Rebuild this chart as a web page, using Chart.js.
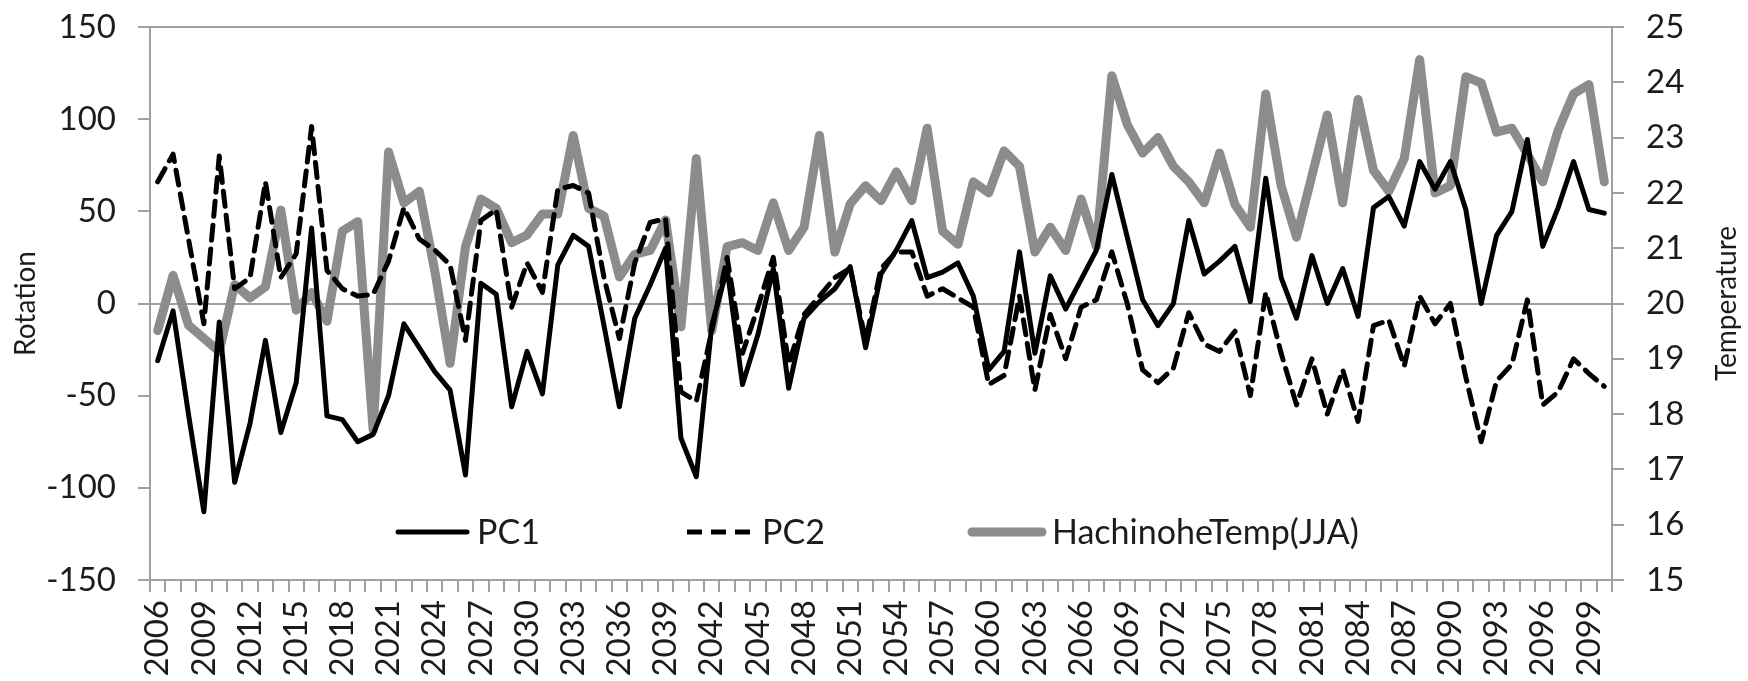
<!DOCTYPE html>
<html>
<head>
<meta charset="utf-8">
<title>PC1 / PC2 / HachinoheTemp(JJA)</title>
<script src="https://cdn.jsdelivr.net/npm/chart.js@4.4.1/dist/chart.umd.min.js"></script>
<style>
  html, body { margin: 0; padding: 0; background: #fff; }
  #wrap { position: relative; width: 1748px; height: 681px; }
</style>
</head>
<body>
<div id="wrap"><canvas id="chart"></canvas></div>
<script>
// categories: 2006 .. 2100
const years = [
  2006, 2007, 2008, 2009, 2010, 2011, 2012, 2013, 2014, 2015,
  2016, 2017, 2018, 2019, 2020, 2021, 2022, 2023, 2024, 2025,
  2026, 2027, 2028, 2029, 2030, 2031, 2032, 2033, 2034, 2035,
  2036, 2037, 2038, 2039, 2040, 2041, 2042, 2043, 2044, 2045,
  2046, 2047, 2048, 2049, 2050, 2051, 2052, 2053, 2054, 2055,
  2056, 2057, 2058, 2059, 2060, 2061, 2062, 2063, 2064, 2065,
  2066, 2067, 2068, 2069, 2070, 2071, 2072, 2073, 2074, 2075,
  2076, 2077, 2078, 2079, 2080, 2081, 2082, 2083, 2084, 2085,
  2086, 2087, 2088, 2089, 2090, 2091, 2092, 2093, 2094, 2095,
  2096, 2097, 2098, 2099, 2100
];

// rotation (left axis)
const pc1 = [
  -31, -4, -60, -113, -10, -97, -65, -20, -70, -43,
  41, -61, -63, -75, -71, -50, -11, -24, -37, -47,
  -93, 11, 5, -56, -26, -49, 21, 37, 31, -12,
  -56, -8, 10, 30, -73, -94, -12, 19, -44, -17,
  19, -46, -8, 1, 8, 20, -24, 16, 29, 45,
  14, 17, 22, 4, -36, -26, 28, -27, 15, -3,
  13, 29, 70, 36, 2, -12, 0, 45, 16, 23,
  31, 1, 68, 14, -8, 26, 0, 19, -7, 52,
  58, 42, 77, 62, 77, 51, 0, 37, 50, 89,
  31, 52, 77, 51, 49
];

const pc2 = [
  66, 81, 35, -11, 80, 8, 14, 66, 14, 27,
  96, 18, 8, 4, 5, 23, 52, 35, 29, 21,
  -20, 45, 51, -2, 22, 6, 62, 64, 60, 14,
  -19, 22, 44, 46, -48, -53, -15, 25, -27, -2,
  25, -33, -6, 4, 14, 19, -20, 19, 28, 28,
  4, 8, 3, -2, -44, -39, 4, -47, -6, -30,
  -2, 2, 28, 0, -36, -43, -35, -5, -22, -26,
  -15, -50, 6, -27, -55, -30, -60, -36, -64, -12,
  -9, -34, 4, -11, 0, -40, -75, -42, -33, 2,
  -55, -48, -30, -38, -45
];

// temperature (right axis)
const hachinoheTemp = [
  19.51, 20.51, 19.61, 19.37, 19.13, 20.34, 20.10, 20.30, 21.69, 19.88,
  20.20, 19.68, 21.31, 21.48, 17.71, 22.74, 21.82, 22.03, 20.60, 18.92,
  21.03, 21.89, 21.72, 21.10, 21.24, 21.62, 21.62, 23.04, 21.72, 21.58,
  20.48, 20.89, 20.96, 21.51, 19.58, 22.62, 19.51, 21.03, 21.10, 20.96,
  21.82, 20.96, 21.38, 23.04, 20.93, 21.80, 22.13, 21.86, 22.38, 21.86,
  23.17, 21.31, 21.07, 22.20, 22.00, 22.76, 22.48, 20.93, 21.38, 20.96,
  21.89, 21.03, 24.12, 23.24, 22.72, 23.00, 22.48, 22.20, 21.82, 22.72,
  21.79, 21.38, 23.79, 22.13, 21.20, 22.31, 23.41, 21.82, 23.69, 22.41,
  22.03, 22.62, 24.41, 22.00, 22.13, 24.10, 23.99, 23.10, 23.17, 22.70,
  22.20, 23.13, 23.79, 23.96, 22.20
];

// tick labels
const shownYears = [
  2006, 2009, 2012, 2015, 2018, 2021, 2024, 2027, 2030, 2033, 2036,
  2039, 2042, 2045, 2048, 2051, 2054, 2057, 2060, 2063, 2066, 2069,
  2072, 2075, 2078, 2081, 2084, 2087, 2090, 2093, 2096, 2099
];
const rotationTicks = [-150, -100, -50, 0, 50, 100, 150];
const temperatureTicks = [15, 16, 17, 18, 19, 20, 21, 22, 23, 24, 25];

const FONT = 'Lato, "Open Sans", sans-serif';
const TEXT = '#1c1c1c';
const AXIS = '#a0a0a0';

// axis titles + in-plot legend
const overlay = {
    id: 'overlay',
    afterDraw(chart) {
        const ctx = chart.ctx;
        const area = chart.chartArea;
        const midY = (area.top + area.bottom) / 2;
        ctx.save();
        ctx.fillStyle = TEXT;
        ctx.font = '28px ' + FONT;
        ctx.textAlign = 'center';
        ctx.textBaseline = 'middle';
        [['Rotation', 26], ['Temperature', 1727]].forEach(([t, x]) => {
            ctx.save();
            ctx.translate(x, midY);
            ctx.rotate(-Math.PI / 2);
            ctx.fillText(t, 0, 0);
            ctx.restore();
        });

        // legend entries: [dataset, line start, text start]
        const entries = [[0, 398, 477], [1, 687, 762], [2, 972, 1052]];
        const ly = 532;
        entries.forEach(([i, x0, tx]) => {
            const ds = chart.data.datasets[i];
            ctx.beginPath();
            ctx.strokeStyle = ds.borderColor;
            ctx.lineWidth = ds.borderWidth;
            ctx.setLineDash(ds.borderDash || []);
            ctx.lineCap = ds.borderDash ? 'butt' : 'round';
            ctx.moveTo(x0, ly);
            ctx.lineTo(tx - 10, ly);
            ctx.stroke();
            ctx.setLineDash([]);
            ctx.fillStyle = TEXT;
            ctx.font = '34px ' + FONT;
            ctx.textAlign = 'left';
            ctx.fillText(ds.label, tx, ly + 1);
        });
        ctx.restore();
    }
};

const tickFont = { family: FONT, size: 33 };

// fixed box sizes so the plot area sits where the reference has it
function fixVertical(width) {
    return s => { s.width = width; s.paddingTop = 0; s.paddingBottom = 0; };
}

new Chart(document.getElementById('chart'), {
    type: 'line',
    data: {
        labels: years,
        datasets: [
            { label: 'PC1', data: pc1, yAxisID: 'y', borderColor: '#000', borderWidth: 5, order: 0 },
            { label: 'PC2', data: pc2, yAxisID: 'y', borderColor: '#000', borderWidth: 5, borderDash: [15, 9], order: 1 },
            { label: 'HachinoheTemp(JJA)', data: hachinoheTemp, yAxisID: 'y1', borderColor: '#8c8c8c', borderWidth: 9, order: 2 }
        ]
    },
    options: {
        responsive: true,
        maintainAspectRatio: false,
        animation: false,
        events: [],
        layout: { padding: { top: 27, left: 0, right: 0, bottom: 0 } },
        elements: {
            point: { radius: 0 },
            line: { tension: 0, fill: false, borderJoinStyle: 'round', borderCapStyle: 'round' }
        },
        plugins: { legend: { display: false }, tooltip: { enabled: false } },
        scales: {
            x: {
                offset: true,
                grid: { offset: true, drawOnChartArea: false, tickLength: 12, tickColor: AXIS, lineWidth: 2 },
                border: { color: AXIS, width: 2 },
                ticks: {
                    autoSkip: false, minRotation: 90, maxRotation: 90, padding: 8,
                    font: tickFont, color: TEXT,
                    callback(v) {
                        const y = this.getLabelForValue(v);
                        return shownYears.includes(y) ? String(y) : '';
                    }
                },
                afterFit(s) { s.height = 101; s.paddingLeft = 0; s.paddingRight = 0; }
            },
            y: {
                position: 'left',
                min: rotationTicks[0],
                max: rotationTicks[rotationTicks.length - 1],
                ticks: { stepSize: rotationTicks[1] - rotationTicks[0], padding: 22, font: tickFont, color: TEXT },
                grid: {
                    color: c => (c.tick.value === 0 || c.tick.value === 150) ? AXIS : 'rgba(0,0,0,0)',
                    lineWidth: 2, tickLength: 12, tickColor: AXIS
                },
                border: { color: AXIS, width: 2 },
                afterFit: fixVertical(150)
            },
            y1: {
                position: 'right',
                min: temperatureTicks[0],
                max: temperatureTicks[temperatureTicks.length - 1],
                ticks: { stepSize: 1, padding: 22, font: tickFont, color: TEXT },
                grid: { drawOnChartArea: false, lineWidth: 2, tickLength: 12, tickColor: AXIS },
                border: { color: AXIS, width: 2 },
                afterFit: fixVertical(136)
            }
        }
    },
    plugins: [overlay]
});
</script>
</body>
</html>
